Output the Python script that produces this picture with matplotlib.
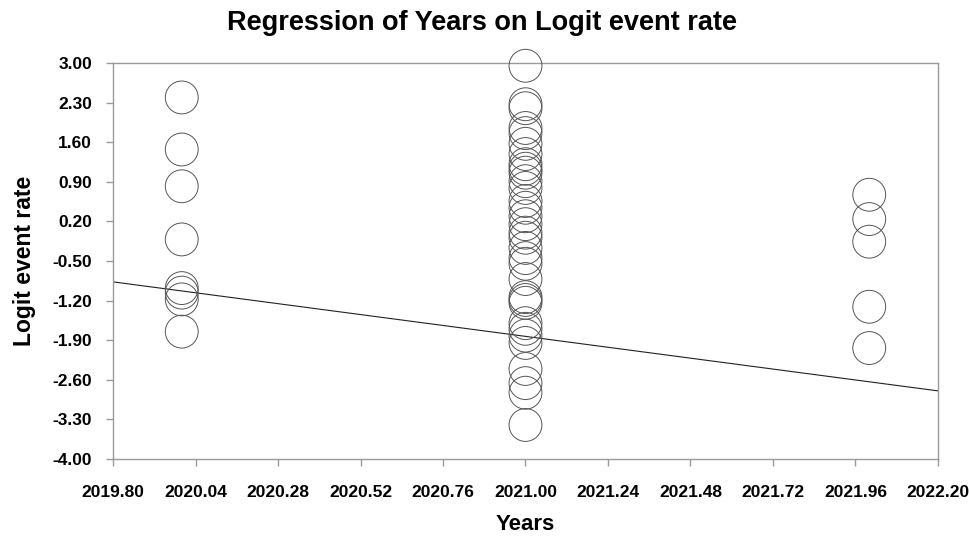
import numpy as np
import matplotlib
matplotlib.use("Agg")
import matplotlib.pyplot as plt

plt.rcParams['font.family'] = ['Liberation Sans', 'DejaVu Sans']

# studies per year (logit event rate)
years_2020 = [2.39, 1.47, 0.82, -0.12, -0.98, -1.06, -1.18, -1.75]
years_2021 = [2.95, 2.27, 2.20, 1.85, 1.76, 1.57, 1.39, 1.21, 1.13, 1.06,
              0.91, 0.79, 0.56, 0.44, 0.29, 0.15, 0.00, -0.09, -0.27, -0.45,
              -0.55, -0.82, -1.14, -1.19, -1.24, -1.60, -1.70, -1.82, -1.95,
              -2.41, -2.66, -2.83, -3.40]
years_2022 = [0.67, 0.24, -0.16, -1.31, -2.04]

# fitted regression line: value at x=2019.80 and slope per year
line_x0 = 2019.80
line_y0 = -0.87
line_slope = -0.803

xticks = np.round(np.arange(2019.80, 2022.21, 0.24), 2)
yticks = np.round(np.arange(-4.0, 3.01, 0.7), 2)

fig = plt.figure(figsize=(9.7, 5.38), dpi=100)
ax = fig.add_axes([0.1165, 0.147, 0.8505, 0.736])

xs = [2020.0] * len(years_2020) + [2021.0] * len(years_2021) + [2022.0] * len(years_2022)
ys = years_2020 + years_2021 + years_2022
ax.scatter(xs, ys, s=560, facecolors='none', edgecolors='#555555',
           linewidths=0.7, clip_on=False, zorder=3)

lx = np.array([2019.80, 2022.20])
ax.plot(lx, line_y0 + line_slope * (lx - line_x0), color='#222222', lw=0.8)

ax.set_xlim(2019.80, 2022.20)
ax.set_ylim(-4.0, 3.0)
ax.set_xticks(xticks)
ax.set_xticklabels([f"{v:.2f}" for v in xticks])
ax.set_yticks(yticks)
ax.set_yticklabels([f"{v:.2f}" for v in yticks])

for s in ax.spines.values():
    s.set_color('#9a9a9a')
    s.set_linewidth(1.0)
ax.tick_params(direction='out', length=5, color='#9a9a9a', width=1.0,
               labelsize=12.5)
ax.tick_params(axis='x', pad=14)
ax.tick_params(axis='y', pad=10)
for lab in ax.get_xticklabels() + ax.get_yticklabels():
    lab.set_fontweight('bold')

ax.set_xlabel('Years', fontsize=16, fontweight='bold', labelpad=10)
ax.set_ylabel('Logit event rate', fontsize=16.5, fontweight='bold', labelpad=12)
fig.text(0.497, 0.957, 'Regression of Years on Logit event rate', fontsize=19.5,
         fontweight='bold', ha='center', va='center')

fig.savefig('out.png', dpi=100)
